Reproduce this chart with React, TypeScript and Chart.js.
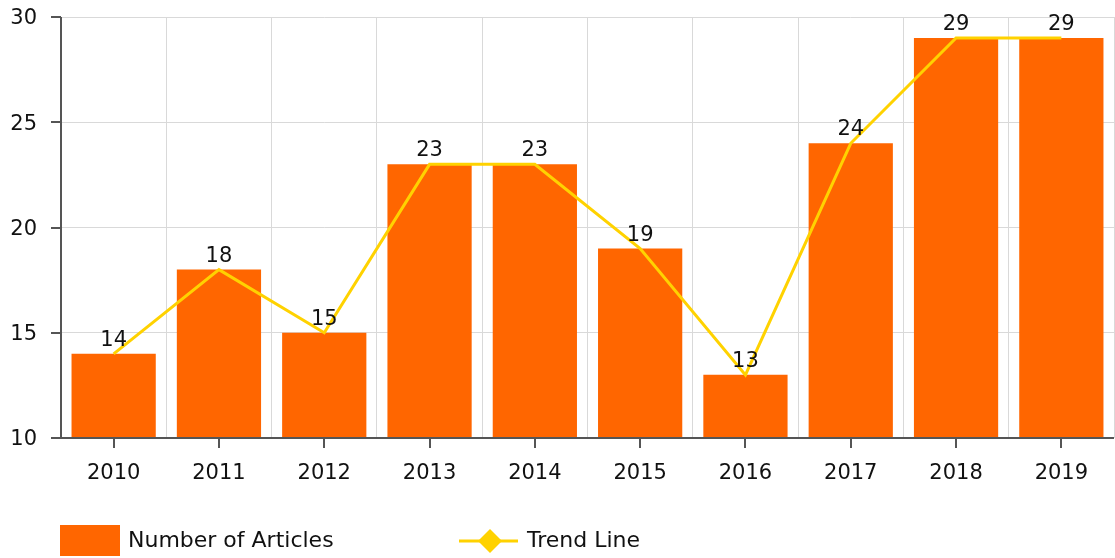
import React, { useEffect, useRef } from "react";
import { Chart, registerables } from "chart.js";

Chart.register(...registerables);

const years = ["2010", "2011", "2012", "2013", "2014", "2015", "2016", "2017", "2018", "2019"];
const articles = [14, 18, 15, 23, 23, 19, 13, 24, 29, 29];
const trend = [14, 18, 15, 23, 23, 19, 13, 24, 29, 29];
const yTicks = [10, 15, 20, 25, 30];

const BAR_COLOR = "#FF6600";
const LINE_COLOR = "#FFD200";
const AXIS_COLOR = "#555555";
const GRID_COLOR = "#D9D9D9";
const FONT = "DejaVu Sans, Verdana, sans-serif";

const extrasPlugin = {
  id: "extras",
  afterDatasetsDraw(chart: any) {
    const ctx = chart.ctx;
    const x = chart.scales.x;
    const y = chart.scales.y;
    const area = chart.chartArea;
    ctx.save();
    ctx.strokeStyle = AXIS_COLOR;
    ctx.lineWidth = 2;
    ctx.beginPath();
    ctx.moveTo(area.left, area.top);
    ctx.lineTo(area.left, area.bottom);
    ctx.lineTo(area.right, area.bottom);
    ctx.stroke();
    ctx.beginPath();
    years.forEach((_, i) => {
      const px = Math.round(x.getPixelForValue(i));
      ctx.moveTo(px, area.bottom);
      ctx.lineTo(px, area.bottom + 10);
    });
    yTicks.forEach((v) => {
      const py = Math.round(y.getPixelForValue(v));
      ctx.moveTo(area.left - 10, py);
      ctx.lineTo(area.left, py);
    });
    ctx.stroke();
    ctx.fillStyle = "#111111";
    ctx.font = `21px ${FONT}`;
    ctx.textAlign = "center";
    ctx.textBaseline = "bottom";
    const meta = chart.getDatasetMeta(1);
    meta.data.forEach((bar: any, i: number) => {
      ctx.fillText(String(articles[i]), bar.x, bar.y - 3);
    });
    const ly = 541;
    ctx.fillStyle = BAR_COLOR;
    ctx.fillRect(60, 525, 60, 31);
    ctx.fillStyle = "#111111";
    ctx.font = `22px ${FONT}`;
    ctx.textAlign = "left";
    ctx.textBaseline = "middle";
    ctx.fillText("Number of Articles", 128, ly);
    ctx.strokeStyle = LINE_COLOR;
    ctx.lineWidth = 3;
    ctx.beginPath();
    ctx.moveTo(459, ly);
    ctx.lineTo(518, ly);
    ctx.stroke();
    ctx.fillStyle = LINE_COLOR;
    ctx.beginPath();
    ctx.moveTo(490, ly - 12);
    ctx.lineTo(502, ly);
    ctx.lineTo(490, ly + 12);
    ctx.lineTo(478, ly);
    ctx.closePath();
    ctx.fill();
    ctx.fillStyle = "#111111";
    ctx.fillText("Trend Line", 527, ly);
    ctx.restore();
  },
};

export default function App() {
  const ref = useRef<HTMLCanvasElement>(null);
  useEffect(() => {
    if (!ref.current) return;
    const chart = new Chart(ref.current, {
      type: "bar",
      data: {
        labels: years,
        datasets: [
          {
            type: "line",
            label: "Trend Line",
            data: trend,
            borderColor: LINE_COLOR,
            borderWidth: 3,
            pointRadius: 0,
            tension: 0,
            order: 0,
          } as any,
          {
            type: "bar",
            label: "Number of Articles",
            data: articles,
            backgroundColor: BAR_COLOR,
            barPercentage: 0.8,
            categoryPercentage: 1,
            order: 1,
          },
        ],
      },
      options: {
        animation: false,
        responsive: false,
        maintainAspectRatio: false,
        layout: { padding: { top: 17, right: 1, left: 0, bottom: 0 } },
        plugins: {
          legend: { display: false },
          tooltip: { enabled: false },
        },
        scales: {
          x: {
            offset: true,
            grid: { offset: true, color: GRID_COLOR, drawTicks: false },
            border: { display: false },
            ticks: { color: "#111111", font: { family: FONT, size: 21 }, padding: 23, maxRotation: 0 },
            afterFit: (s: any) => {
              s.height = 120;
              s.paddingLeft = 0;
              s.paddingRight = 0;
              s.paddingTop = 0;
              s.paddingBottom = 0;
            },
          },
          y: {
            min: 10,
            max: 30,
            afterBuildTicks: (s: any) => {
              s.ticks = yTicks.map((v) => ({ value: v }));
            },
            grid: { color: GRID_COLOR, drawTicks: false },
            border: { display: false },
            ticks: { color: "#111111", font: { family: FONT, size: 21 }, padding: 24, labelOffset: 2 },
            afterFit: (s: any) => {
              s.width = 61;
              s.paddingTop = 0;
              s.paddingBottom = 0;
              s.paddingLeft = 0;
              s.paddingRight = 0;
            },
          },
        },
      },
      plugins: [extrasPlugin],
    });
    return () => chart.destroy();
  }, []);
  return (
    <div style={{ position: "fixed", left: 0, top: 0, width: 1115, height: 558, background: "#fff" }}>
      <canvas ref={ref} width={1115} height={558} style={{ width: 1115, height: 558 }} />
    </div>
  );
}
